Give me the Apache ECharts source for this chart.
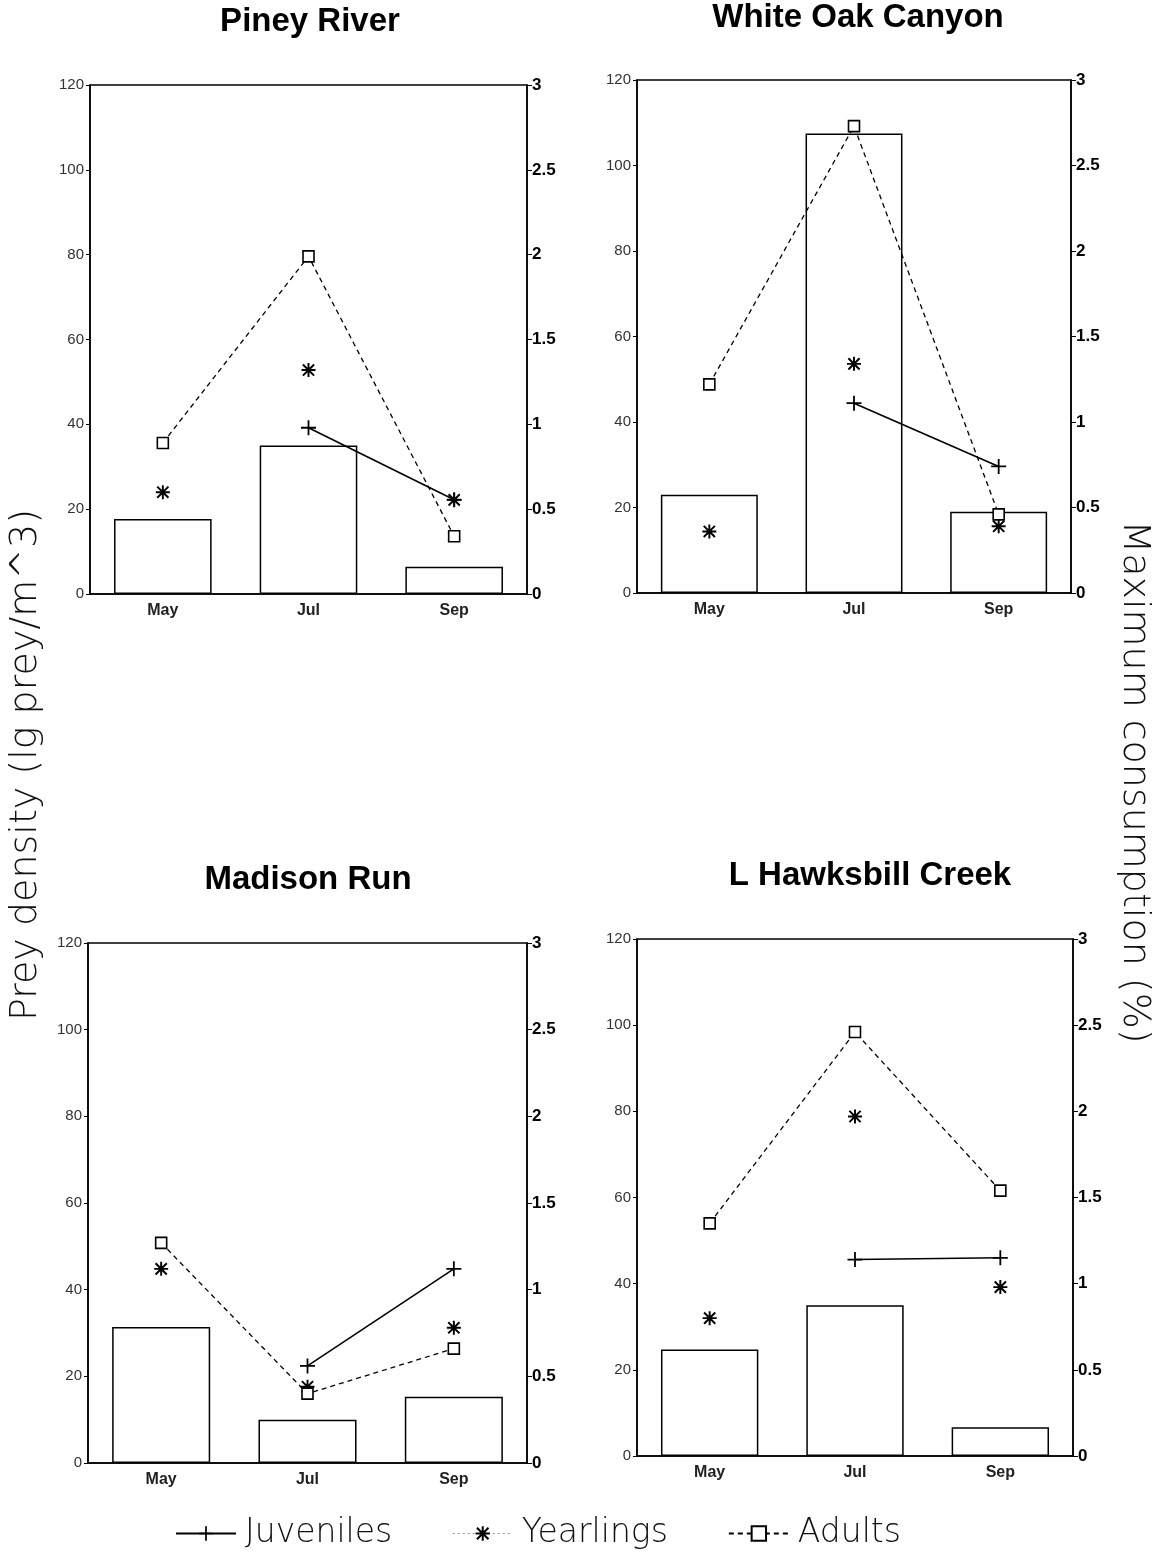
<!DOCTYPE html>
<html>
<head>
<meta charset="utf-8">
<script src="https://cdn.jsdelivr.net/npm/echarts@6/dist/echarts.min.js"></script>
<style>
  html, body { margin: 0; padding: 0; background: #fff; }
  #chart { width: 1159px; height: 1553px; }
</style>
</head>
<body>
<div id="chart"></div>
<script>
// chart values
var months = ['May', 'Jul', 'Sep'];
var sites = ['Piney River', 'White Oak Canyon', 'Madison Run', 'L Hawksbill Creek'];
// bars: prey density (left axis)
var preyDensity = [
    [17.7, 35, 6.4],
    [23, 107.5, 19],
    [31.4, 10, 15.3],
    [24.7, 35, 6.7]
];
// points: maximum consumption (right axis)
var juveniles = [
    [null, 0.98, 0.555],
    [null, 1.11, 0.74],
    [null, 0.56, 1.12],
    [null, 1.14, 1.15]
];
var yearlings = [
    [0.60, 1.32, 0.555],
    [0.36, 1.34, 0.39],
    [1.12, 0.44, 0.78],
    [0.80, 1.97, 0.98]
];
var adults = [
    [0.89, 1.99, 0.34],
    [1.22, 2.73, 0.46],
    [1.27, 0.40, 0.66],
    [1.35, 2.46, 1.54]
];
var densityAxis = { min: 0, max: 120, interval: 20 };
var consumptionAxis = { min: 0, max: 3, interval: 0.5 };

// panel boxes (left, top, width, height) and title centres
var boxes = [
    [90, 85, 437, 509],
    [637, 80, 434, 513],
    [88, 943, 439, 520],
    [637, 939, 436, 517]
];
var titlePos = [[310, 5], [858, 1], [308, 863], [870, 859]];

var plusPath = 'path://M4.4,0H5.6V4.4H10V5.6H5.6V10H4.4V5.6H0V4.4H4.4Z';
var starPath = 'path://M4.3,0H5.7V10H4.3Z M0,4.3H10V5.7H0Z ' +
    'M1.5,0.5L9.5,8.5L8.5,9.5L0.5,1.5Z M8.5,0.5L9.5,1.5L1.5,9.5L0.5,8.5Z';

var FONT = '"Liberation Sans", Arial, sans-serif';
var THIN = '"DejaVu Sans", "Liberation Sans", sans-serif';

var dom = document.getElementById('chart');
var myChart = echarts.init(dom);

var grids = [], xAxes = [], yAxes = [], series = [], titles = [];

for (var i = 0; i < 4; i++) {
    var b = boxes[i];
    grids.push({
        left: b[0], top: b[1], width: b[2], height: b[3],
        show: true, borderColor: '#000', borderWidth: 1.5, backgroundColor: 'transparent'
    });
    titles.push({
        text: sites[i],
        left: titlePos[i][0],
        top: titlePos[i][1],
        padding: 0,
        textAlign: 'center',
        textStyle: { fontFamily: FONT, fontSize: 33, fontWeight: 'bold', color: '#000' }
    });
    xAxes.push({
        gridIndex: i,
        type: 'category',
        data: months,
        axisLine: { lineStyle: { color: '#000', width: 1.5 } },
        axisTick: { inside: true, alignWithLabel: true, length: 7, lineStyle: { color: '#000' } },
        axisLabel: { margin: 9, fontFamily: FONT, fontSize: 16, fontWeight: 'bold', color: '#222' }
    });
    yAxes.push({
        gridIndex: i,
        type: 'value',
        min: densityAxis.min, max: densityAxis.max, interval: densityAxis.interval,
        splitLine: { show: false },
        axisLine: { show: true, lineStyle: { color: '#000', width: 1.5 } },
        axisTick: { show: true, length: 4, lineStyle: { color: '#000' } },
        axisLabel: { margin: 6, fontFamily: FONT, fontSize: 15, color: '#333' }
    });
    yAxes.push({
        gridIndex: i,
        type: 'value',
        position: 'right',
        min: consumptionAxis.min, max: consumptionAxis.max, interval: consumptionAxis.interval,
        splitLine: { show: false },
        axisLine: { show: true, lineStyle: { color: '#000', width: 1.5 } },
        axisTick: { show: true, length: 5, lineStyle: { color: '#000' } },
        axisLabel: { margin: 5, fontFamily: FONT, fontSize: 17, fontWeight: 'bold', color: '#000' }
    });

    series.push({
        name: 'Prey density',
        type: 'bar',
        xAxisIndex: i, yAxisIndex: i * 2,
        barWidth: '67%',
        data: preyDensity[i],
        itemStyle: { color: '#fff', borderColor: '#000', borderWidth: 1.5 },
        z: 1
    });
    series.push({
        name: 'Juveniles',
        type: 'line',
        xAxisIndex: i, yAxisIndex: i * 2 + 1,
        data: juveniles[i],
        symbol: plusPath, symbolSize: 15,
        itemStyle: { color: '#000' },
        lineStyle: { color: '#000', width: 1.6 },
        z: 3
    });
    series.push({
        name: 'Yearlings',
        type: 'line',
        xAxisIndex: i, yAxisIndex: i * 2 + 1,
        data: yearlings[i],
        symbol: starPath, symbolSize: 14,
        itemStyle: { color: '#000' },
        lineStyle: { width: 0, opacity: 0 },
        z: 3
    });
    series.push({
        name: 'Adults',
        type: 'line',
        xAxisIndex: i, yAxisIndex: i * 2 + 1,
        data: adults[i],
        symbol: 'rect', symbolSize: 11,
        itemStyle: { color: '#fff', borderColor: '#000', borderWidth: 1.6 },
        lineStyle: { color: '#000', width: 1.3, type: [5, 4] },
        z: 4
    });
}

var option = {
    animation: false,
    backgroundColor: '#fff',
    title: titles,
    grid: grids,
    xAxis: xAxes,
    yAxis: yAxes,
    series: series,
    legend: {
        top: 1512,
        left: 170,
        itemWidth: 60,
        itemHeight: 18,
        itemGap: 60,
        textStyle: { fontFamily: THIN, fontWeight: 200, fontSize: 33, color: '#111', padding: [0, 0, 0, 4] },
        data: [
            { name: 'Juveniles' },
            { name: 'Yearlings', lineStyle: { width: 1, type: [2, 3], color: '#999', opacity: 1 } },
            { name: 'Adults' }
        ]
    },
    graphic: [
        {
            type: 'text',
            x: 26, y: 765,
            rotation: Math.PI / 2,
            style: {
                text: 'Prey density (lg prey/m^3)',
                font: '200 38px ' + THIN,
                fill: '#111',
                align: 'center',
                verticalAlign: 'middle'
            }
        },
        {
            type: 'text',
            x: 1134, y: 782,
            rotation: -Math.PI / 2,
            style: {
                text: 'Maximum consumption (%)',
                font: '200 38px ' + THIN,
                fill: '#111',
                align: 'center',
                verticalAlign: 'middle'
            }
        }
    ]
};

if (option && typeof option === 'object') {
    myChart.setOption(option, true);
}
</script>
</body>
</html>
